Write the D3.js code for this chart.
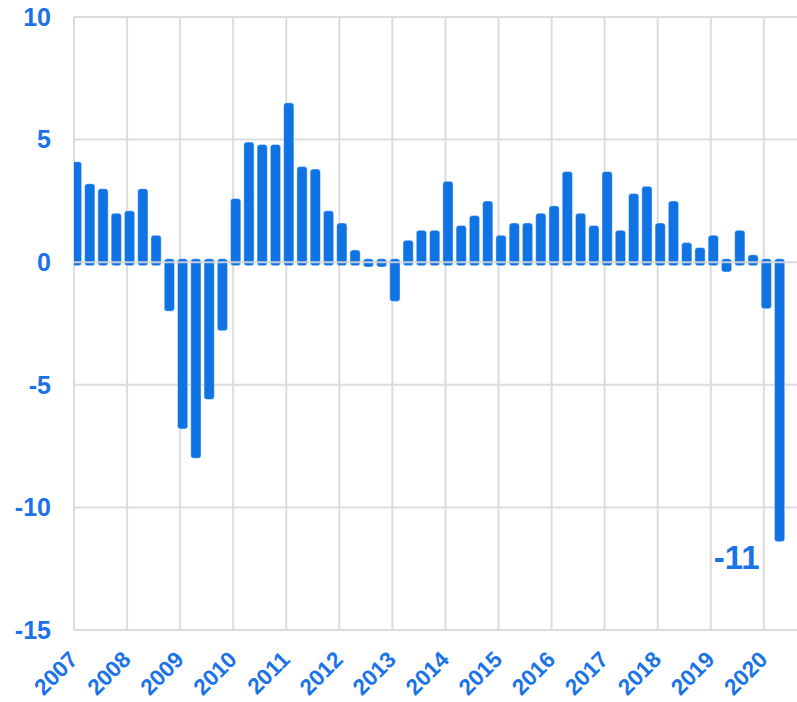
<!DOCTYPE html>
<html>
<head>
<meta charset="utf-8">
<script src="https://cdn.jsdelivr.net/npm/d3@7"></script>
<style>
  body { margin: 0; background: #fff; }
  text { font-family: Arial, "Liberation Sans", sans-serif; font-weight: bold; }
</style>
</head>
<body>
<div id="chart"></div>
<script>
// quarterly values, 2007 Q1 .. 2020 Q2
const years = d3.range(2007, 2021);
const quarters = ["Q1", "Q2", "Q3", "Q4"];
const values = [
  4.1, 3.2, 3.0, 2.0,
  2.1, 3.0, 1.1, -2.0,
  -6.8, -8.0, -5.6, -2.8,
  2.6, 4.9, 4.8, 4.8,
  6.5, 3.9, 3.8, 2.1,
  1.6, 0.5, -0.2, -0.2,
  -1.6, 0.9, 1.3, 1.3,
  3.3, 1.5, 1.9, 2.5,
  1.1, 1.6, 1.6, 2.0,
  2.3, 3.7, 2.0, 1.5,
  3.7, 1.3, 2.8, 3.1,
  1.6, 2.5, 0.8, 0.6,
  1.1, -0.4, 1.3, 0.3,
  -1.9, -11.4
];
const yTicks = [10, 5, 0, -5, -10, -15];
const annotation = { index: 53, text: "-11" };

const data = values.map((v, i) => ({
  year: years[Math.floor(i / 4)],
  q: i % 4,
  value: v
}));

const W = 797, H = 702;
const margin = { top: 17, right: 0, bottom: 72, left: 74 };
const width = W - margin.left - margin.right;
const height = H - margin.top - margin.bottom;
const blue = "#0f73e4";
const textBlue = "#1a73e8";
const grid = "#dcdcdc";

const svg = d3.select("#chart")
  .append("svg")
  .attr("width", W)
  .attr("height", H)
  .append("g")
  .attr("transform", `translate(${margin.left}, ${margin.top})`);

const x = d3.scaleLinear().domain([2007, 2020.625]).range([0, width]);
const y = d3.scaleLinear().domain([-15, 10]).range([height, 0]);

svg.append("defs").append("clipPath").attr("id", "plot-clip")
  .append("rect").attr("x", 0).attr("y", 0).attr("width", width).attr("height", height);

// horizontal grid
svg.append("g")
  .selectAll("line")
  .data(yTicks.filter((d) => d !== 0))
  .join("line")
  .attr("x1", 0)
  .attr("x2", width)
  .attr("y1", (d) => y(d))
  .attr("y2", (d) => y(d))
  .attr("stroke", grid)
  .attr("stroke-width", 2);

// vertical grid at years
svg.append("g")
  .selectAll("line")
  .data(years)
  .join("line")
  .attr("x1", (d) => x(d))
  .attr("x2", (d) => x(d))
  .attr("y1", 0)
  .attr("y2", height)
  .attr("stroke", grid)
  .attr("stroke-width", 2);

// bars
const barW = 10.3;
const ext = 3.5; // bars run a little past zero
const cx = (d) => x(d.year + d.q * 0.25) + 2.5;
svg.append("g")
  .attr("clip-path", "url(#plot-clip)")
  .selectAll("rect")
  .data(data)
  .join("rect")
  .attr("x", (d) => cx(d) - barW / 2)
  .attr("width", barW)
  .attr("y", (d) => d.value >= 0 ? y(d.value) : y(0) - ext)
  .attr("height", (d) => Math.abs(y(d.value) - y(0)) + ext)
  .attr("rx", 3)
  .attr("fill", blue)
  .attr("stroke", "rgba(255,255,255,0.45)")
  .attr("stroke-width", 1);

// zero line over bars
svg.append("line")
  .attr("x1", 0)
  .attr("x2", width)
  .attr("y1", y(0))
  .attr("y2", y(0))
  .attr("stroke", "rgba(215,215,215,0.9)")
  .attr("stroke-width", 2);

// y axis labels
svg.append("g")
  .selectAll("text")
  .data(yTicks)
  .join("text")
  .attr("x", -23)
  .attr("y", (d) => y(d))
  .attr("dy", "0.35em")
  .attr("text-anchor", "end")
  .attr("fill", textBlue)
  .style("font-size", "25px")
  .text((d) => d);

// x axis labels
svg.append("g")
  .selectAll("text")
  .data(years)
  .join("text")
  .attr("text-anchor", "end")
  .attr("fill", textBlue)
  .style("font-size", "22.5px")
  .attr("transform", (d) => `translate(${x(d) + 5}, ${height + 31}) rotate(-45)`)
  .text((d) => d);

// annotation for last bar
const last = data[annotation.index];
svg.append("text")
  .attr("x", cx(last) - 20)
  .attr("y", y(last.value) + 27)
  .attr("text-anchor", "end")
  .attr("fill", textBlue)
  .style("font-size", "33px")
  .text(annotation.text);
</script>
</body>
</html>
